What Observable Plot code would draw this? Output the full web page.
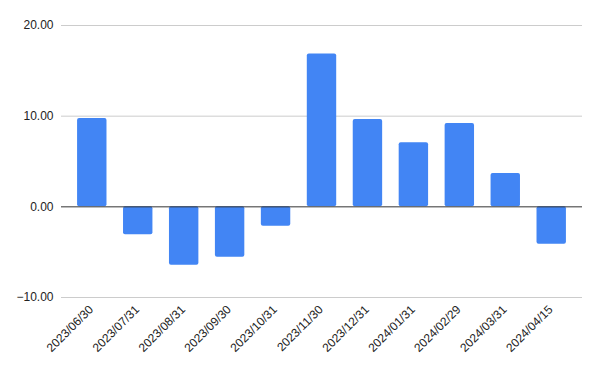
<!DOCTYPE html>
<html>
<head>
<meta charset="utf-8">
<script src="https://cdn.jsdelivr.net/npm/d3@7"></script>
<script src="https://cdn.jsdelivr.net/npm/@observablehq/plot@0.6"></script>
<style>
  html, body { margin: 0; padding: 0; background: #fff; }
</style>
</head>
<body>
<div id="chart"></div>
<script>
const dates = ["2023/06/30","2023/07/31","2023/08/31","2023/09/30","2023/10/31","2023/11/30","2023/12/31","2024/01/31","2024/02/29","2024/03/31","2024/04/15"];
const values = [9.73, -3.08, -6.43, -5.55, -2.14, 16.86, 9.62, 7.08, 9.18, 3.67, -4.12];
const yTicks = [-10, 0, 10, 20];

const data = dates.map((d, i) => ({date: d, value: values[i]}));

const chart = Plot.plot({
  width: 600,
  height: 371,
  marginLeft: 61,
  marginRight: 18,
  marginTop: 25,
  marginBottom: 74,
  style: {fontFamily: "'Liberation Sans', Arial, sans-serif", fontSize: "12px", color: "#222", background: "#fff"},
  x: {domain: dates, paddingInner: 0.36, paddingOuter: 0.35, round: false, label: null},
  y: {domain: [-10, 20], label: null},
  marks: [
    Plot.ruleY(yTicks.filter(t => t !== 0), {stroke: "#cccccc", strokeWidth: 1}),
    Plot.barY(data, {x: "date", y: "value", fill: "#4285F4", rx: 2}),
    Plot.ruleY([0], {stroke: "#333", strokeWidth: 1}),
    Plot.axisY(yTicks, {tickSize: 0, tickPadding: 8, tickFormat: d3.format(".2f"), label: null, fill: "#222"}),
    Plot.axisX({tickSize: 0, tickRotate: -45, tickPadding: 10, dx: -1, label: null, fill: "#222"})
  ]
});
document.getElementById("chart").appendChild(chart);
</script>
</body>
</html>
